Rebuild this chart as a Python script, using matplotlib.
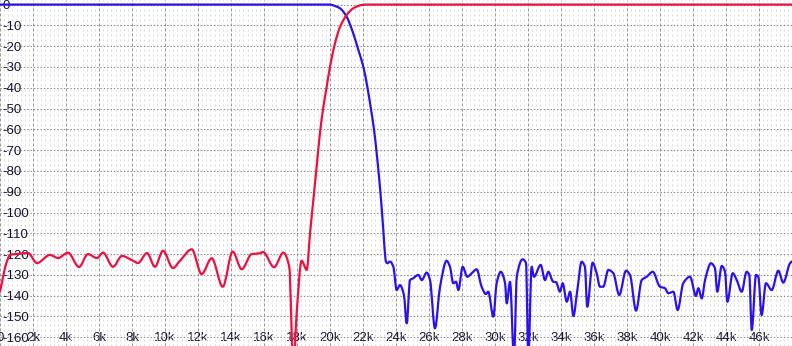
import matplotlib.pyplot as plt
from matplotlib.path import Path
from matplotlib.patches import PathPatch
from matplotlib.ticker import MultipleLocator

plt.rcParams['lines.scale_dashes'] = False
plt.rcParams['font.family'] = ['Liberation Sans', 'DejaVu Sans']

# frequency in kHz, level in dB
lp_freq = [0, 20.0, 20.30, 20.61, 21.01, 21.41, 21.72, 22.02, 22.26, 22.46, 22.67,
           22.83, 22.97, 23.11, 23.23, 23.33, 23.39, 23.47, 23.64, 23.84, 24.04,
           24.24, 24.48, 24.65, 24.85, 25.05, 25.35, 25.56, 25.86, 26.06, 26.36,
           26.67, 27.07, 27.27, 27.47, 27.64, 27.78, 28.04, 28.32, 28.59, 28.89,
           29.19, 29.45, 29.59, 29.90, 30.10, 30.35, 30.61, 30.71, 30.91, 31.15,
           31.32, 31.68, 31.88, 32.02, 32.22, 32.36, 32.77, 33.03, 33.23, 33.53,
           33.70, 33.94, 34.10, 34.35, 34.55, 34.75, 34.99, 35.25, 35.45, 35.59,
           35.92, 36.16, 36.36, 36.56, 36.87, 37.17, 37.53, 37.94, 38.18, 38.55,
           38.89, 39.19, 39.56, 40.00, 40.30, 40.50, 40.81, 41.07, 41.41, 41.82,
           42.18, 42.32, 42.53, 42.73, 43.09, 43.33, 43.47, 43.74, 43.94, 44.08,
           44.41, 44.65, 44.95, 45.25, 45.41, 45.56, 45.82, 45.96, 46.16, 46.42,
           46.77, 47.17, 47.47, 47.88, 48.0]
lp_db = [0, 0, -0.7, -1.8, -5.9, -13.9, -21.9, -29.9, -39.5, -49.1, -60.3,
         -71.5, -82.8, -95.6, -108.4, -119.6, -123.6, -124.4, -123.6, -126.1, -137.3,
         -134.9, -139.7, -153.3, -132.5, -131.6, -130.0, -132.5, -128.9, -132.5, -155.7,
         -135.7, -123.2, -126.1, -134.0, -133.3, -137.3, -126.1, -130.9, -129.2, -127.3,
         -135.7, -139.2, -138.1, -150.1, -134.0, -128.5, -134.0, -143.7, -133.3, -170.0,
         -130.9, -122.5, -124.4, -170.0, -126.1, -130.9, -125.2, -132.5, -128.5, -133.3,
         -133.5, -138.1, -134.0, -142.9, -138.1, -149.8, -137.3, -123.7, -126.1, -145.3,
         -124.1, -129.2, -135.7, -135.7, -127.6, -129.2, -139.7, -128.0, -130.0, -147.2,
         -132.5, -130.9, -128.5, -135.7, -136.4, -138.8, -138.1, -146.9, -134.0, -130.9,
         -140.1, -136.4, -141.3, -132.5, -124.4, -126.8, -138.1, -125.7, -128.5, -142.9,
         -129.2, -132.5, -138.1, -128.5, -130.0, -156.5, -130.0, -131.0, -149.3, -134.0,
         -137.3, -128.0, -133.7, -124.4, -123.5]

hp_freq = [0, 0.41, 0.61, 1.2, 1.70, 2.24, 3.03, 3.52, 4.12, 4.79, 5.33, 5.88,
           6.24, 6.85, 7.39, 8.06, 8.36, 8.91, 9.39, 9.88, 10.48, 10.91, 11.62,
           12.22, 12.83, 13.50, 14.10, 14.65, 15.25, 15.76, 15.94, 16.61, 17.17,
           17.53, 17.78, 17.98, 18.28, 18.59, 18.79, 18.99, 19.19, 19.39, 19.60,
           19.80, 20.00, 20.30, 20.61, 21.01, 21.41, 21.92, 22.22, 48.0]
hp_db = [-138.1, -123.7, -120.4, -119.8, -119.5, -124.3, -120.4, -121.9, -119.3,
         -126.2, -120.0, -121.9, -119.3, -126.1, -120.9, -123.2, -124.3, -119.5,
         -126.1, -118.4, -126.7, -123.2, -117.7, -129.6, -122.0, -135.7, -118.8,
         -127.3, -120.0, -119.6, -119.0, -126.3, -119.3, -126.1, -175.0, -148.3,
         -123.2, -127.6, -110.0, -94.0, -78.0, -61.9, -49.1, -39.5, -29.9, -18.7,
         -10.7, -5.0, -1.8, -0.2, 0, 0]

x_ticks = list(range(0, 47, 2))
x_labels = ['0'] + [f'{k}k' for k in x_ticks[1:]]
y_ticks = list(range(0, -161, -10))


def smooth_path(xs, ys):
    # monotone cubic through the points, drawn as bezier segments
    n = len(xs)
    h = [xs[i + 1] - xs[i] for i in range(n - 1)]
    d = [(ys[i + 1] - ys[i]) / h[i] for i in range(n - 1)]
    m = [d[0]] + [0.0] * (n - 2) + [d[-1]]
    for k in range(1, n - 1):
        if d[k - 1] * d[k] > 0:
            w1 = 2 * h[k] + h[k - 1]
            w2 = h[k] + 2 * h[k - 1]
            m[k] = (w1 + w2) / (w1 / d[k - 1] + w2 / d[k])
    verts = [(xs[0], ys[0])]
    codes = [Path.MOVETO]
    for i in range(n - 1):
        verts += [(xs[i] + h[i] / 3, ys[i] + m[i] * h[i] / 3),
                  (xs[i + 1] - h[i] / 3, ys[i + 1] - m[i + 1] * h[i] / 3),
                  (xs[i + 1], ys[i + 1])]
        codes += [Path.CURVE4] * 3
    return Path(verts, codes)


fig = plt.figure(figsize=(7.92, 3.46), dpi=100)
ax = fig.add_axes([0, 0, 1, 1])

for xs, ys, col in [(lp_freq, lp_db, '#2c12ea'), (hp_freq, hp_db, '#ee1040')]:
    ax.add_patch(PathPatch(smooth_path(xs, ys), fill=False, edgecolor=col,
                           lw=1.6, joinstyle='round', capstyle='round'))

ax.set_xlim(0, 48)
ax.set_ylim(-164.2, 2.2)

ax.set_xticks(x_ticks)
ax.set_xticklabels(x_labels)
ax.set_yticks(y_ticks)
ax.set_yticklabels([str(v) for v in y_ticks])
ax.xaxis.set_minor_locator(MultipleLocator(0.25))

ax.grid(True, axis='x', which='minor', color='#dcdcdc', lw=0.75, ls=(0, (1.4, 2.2)))
ax.grid(True, axis='x', which='major', color='#9a9a9a', lw=0.75, ls=(0, (2.2, 1.4)))
ax.grid(True, axis='y', which='major', color='#8a8a8a', lw=0.75, ls=(0, (1.0, 1.4)))
ax.set_axisbelow(True)

ax.tick_params(which='both', length=0)
ax.tick_params(axis='y', pad=-1.5, labelsize=9.5, labelcolor='#151530')
ax.tick_params(axis='x', pad=-5.6, labelsize=9.5, labelcolor='#151530')
for lab in ax.get_yticklabels():
    lab.set_horizontalalignment('left')
for lab in ax.get_xticklabels():
    lab.set_verticalalignment('center')

for s in ax.spines.values():
    s.set_visible(False)

fig.savefig('out.png', dpi=100)
